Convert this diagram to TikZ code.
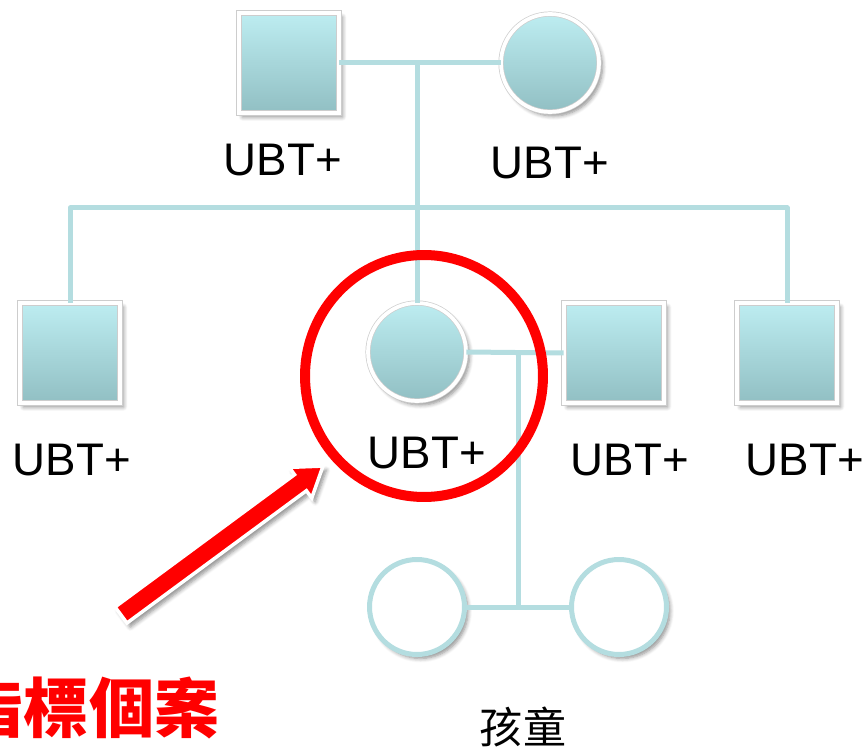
\documentclass[tikz,border=0pt]{standalone}
\usepackage{fontspec}
\setmainfont{Liberation Sans}
\newfontfamily\cjk{Noto Sans CJK TC}
\usetikzlibrary{shadows.blur}

\definecolor{linkblue}{RGB}{180,221,224}
\definecolor{fillhi}{RGB}{189,237,241}
\definecolor{filllo}{RGB}{145,191,195}
\definecolor{markred}{RGB}{255,0,0}
\definecolor{rimgrey}{RGB}{205,205,205}

\tikzset{
  softshadow/.style={blur shadow={shadow xshift=0.07cm, shadow yshift=-0.08cm,
      shadow opacity=45, shadow blur steps=6, shadow blur radius=0.08cm}},
  link/.style={draw=linkblue, line width=0.1cm, line join=round},
  % white framed symbol with a faint grey rim
  framed/.style={draw=rimgrey, line width=0.4pt, double=white,
      double distance=0.075cm, top color=fillhi, bottom color=filllo, softshadow},
  male/.style={rectangle, minimum size=2cm, inner sep=0, framed},
  female/.style={circle, minimum size=1.96cm, inner sep=0, framed},
  kid/.style={circle, minimum size=1.9cm, inner sep=0, draw=linkblue,
      line width=0.1cm, fill=white, softshadow},
  tag/.style={inner sep=0, font=\fontsize{26}{30}\selectfont},
}

\begin{document}
\begin{tikzpicture}[x=0.02cm, y=-0.02cm]
\useasboundingbox (0,0) rectangle (868,749);
\clip (0,0) rectangle (868,749);

% grandparents
\node[male]   (gpa) at (289,63) {};
\node[female] (gma) at (550,63) {};
\node[tag] (lgpa) at (283,160) {UBT+};
\node[tag] (lgma) at (550,163) {UBT+};

% sibship
\node[male]   (sib1) at (70,353)  {};
\node[female] (ego)  at (417,352) {};
\node[male]   (spouse) at (614,353) {};
\node[male]   (sib4) at (787,353) {};
\node[tag] (lsib1) at (72,460)  {UBT+};
\node[tag] (lego)  at (427,453) {UBT+};
\node[tag] (lspouse) at (630,460) {UBT+};
\node[tag] (lsib4) at (805,460) {UBT+};

% children
\node[kid] (kid1) at (417,607) {};
\node[kid] (kid2) at (619,607) {};
\node[font=\cjk\fontsize{24.5}{28}\selectfont, inner sep=0] (kidlabel) at (523,727) {孩童};

% connectors
\coordinate (gmid) at (417,63);
\coordinate (sibbar) at (417,208);
\coordinate (emid) at (518,352);
\coordinate (kmid) at (518,607);

\draw[link] (gpa.east) -- (gma.west);
\draw[link] (gmid) -- (ego.north);
\draw[link] (sib1.north) |- (sibbar) -| (sib4.north);
\draw[link] (ego.east) -- (spouse.west);
\draw[link] (emid) -- (kmid);
\draw[link] (kid1.east) -- (kid2.west);

% highlight ring around the index case
\draw[markred, line width=0.2cm] (424,376) ellipse [x radius=2.38cm, y radius=2.42cm];

% pointer arrow
\begin{scope}[shift={(121,615)}, rotate=36.4]
  \path[fill=markred, draw=white, line width=0.07cm, line join=miter,
        softshadow]
    (0,-10) -- (223,-10) -- (223,-19) -- (251,0) -- (223,19) -- (223,10)
    -- (0,10) -- cycle;
\end{scope}

\node[font=\cjk\bfseries\fontsize{37}{42}\selectfont, text=markred, inner sep=0]
  (index) at (89,708) {指標個案};
\end{tikzpicture}
\end{document}
